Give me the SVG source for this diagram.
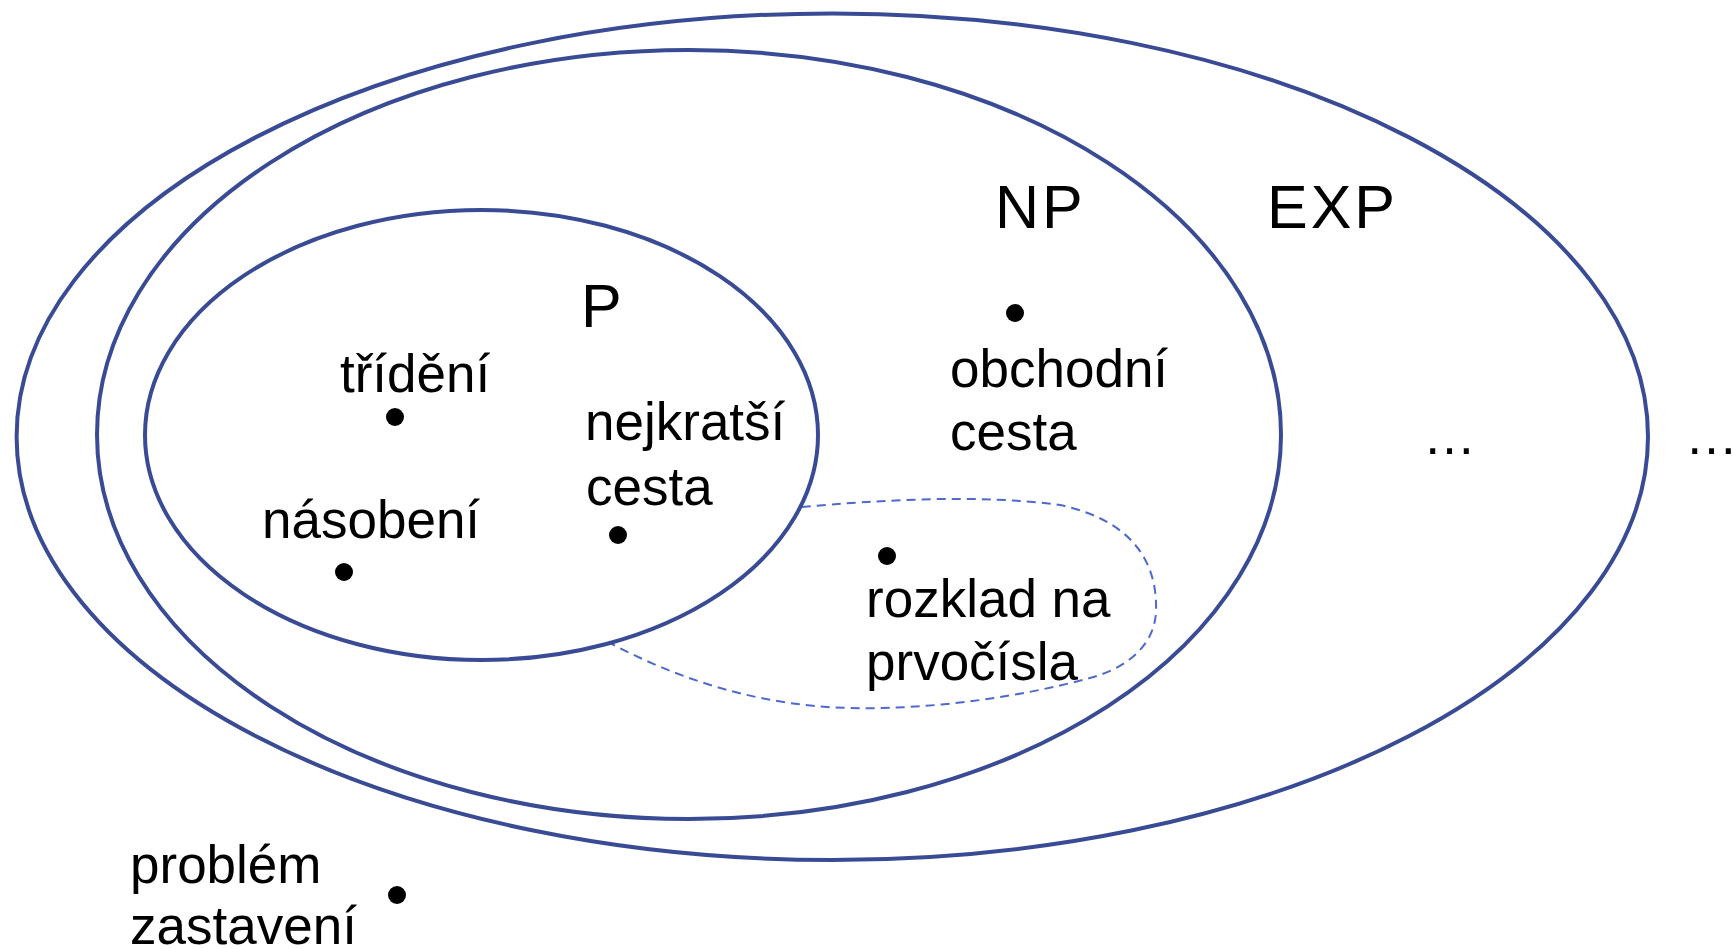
<svg xmlns="http://www.w3.org/2000/svg" width="1733" height="949" viewBox="0 0 1733 949">
<style>
.set{fill:none;stroke:#3a4b95;stroke-width:4}
.dash{fill:none;stroke:#4f69cc;stroke-width:2;stroke-dasharray:9 6}
.lbl{font-family:"Liberation Sans",Arial,sans-serif;font-size:53px;fill:#000}
.big{font-family:"Liberation Sans",Arial,sans-serif;font-size:61px;letter-spacing:3px;fill:#000}
.dot{fill:#000}
</style>
<rect width="1733" height="949" fill="#fff"/>
<g id="connectors">
<path class="dash" d="M 802 507 C 880 500, 980 494, 1060 505 C 1130 520, 1158 560, 1156 612 C 1154 650, 1120 670, 1090 678 C 1020 697, 930 710, 850 708 C 760 706, 680 680, 610 643"/>
</g>
<g id="EXP">
<ellipse class="set" cx="832.3" cy="436.7" rx="815.7" ry="423.3"/>
<text class="big" x="1267" y="228">EXP</text>
<text class="lbl" x="1423" y="454">…</text>
</g>
<g id="NP">
<ellipse class="set" cx="689" cy="434.5" rx="592" ry="384.5"/>
<text class="big" x="995" y="228">NP</text>
</g>
<g id="P">
<ellipse class="set" cx="481.5" cy="435" rx="336.5" ry="225"/>
<text class="big" x="581" y="327">P</text>
</g>
<g id="trideni">
<circle class="dot" cx="395" cy="417" r="9"/>
<text class="lbl" x="340" y="392">třídění</text>
</g>
<g id="nasobeni">
<circle class="dot" cx="344" cy="572" r="9"/>
<text class="lbl" x="262" y="538">násobení</text>
</g>
<g id="nejkratsi-cesta">
<circle class="dot" cx="618" cy="535" r="9"/>
<text class="lbl" x="585" y="440">nejkratší</text>
<text class="lbl" x="586" y="505">cesta</text>
</g>
<g id="obchodni-cesta">
<circle class="dot" cx="1015" cy="313" r="9"/>
<text class="lbl" x="950" y="387">obchodní</text>
<text class="lbl" x="950" y="450">cesta</text>
</g>
<g id="rozklad">
<circle class="dot" cx="887" cy="556" r="9"/>
<text class="lbl" x="866" y="617">rozklad na</text>
<text class="lbl" x="866" y="680">prvočísla</text>
</g>
<g id="problem-zastaveni">
<circle class="dot" cx="397" cy="895" r="9"/>
<text class="lbl" x="130" y="883">problém</text>
<text class="lbl" x="130" y="944">zastavení</text>
</g>
<g id="outside">
<text class="lbl" x="1685" y="454">…</text>
</g>
</svg>
